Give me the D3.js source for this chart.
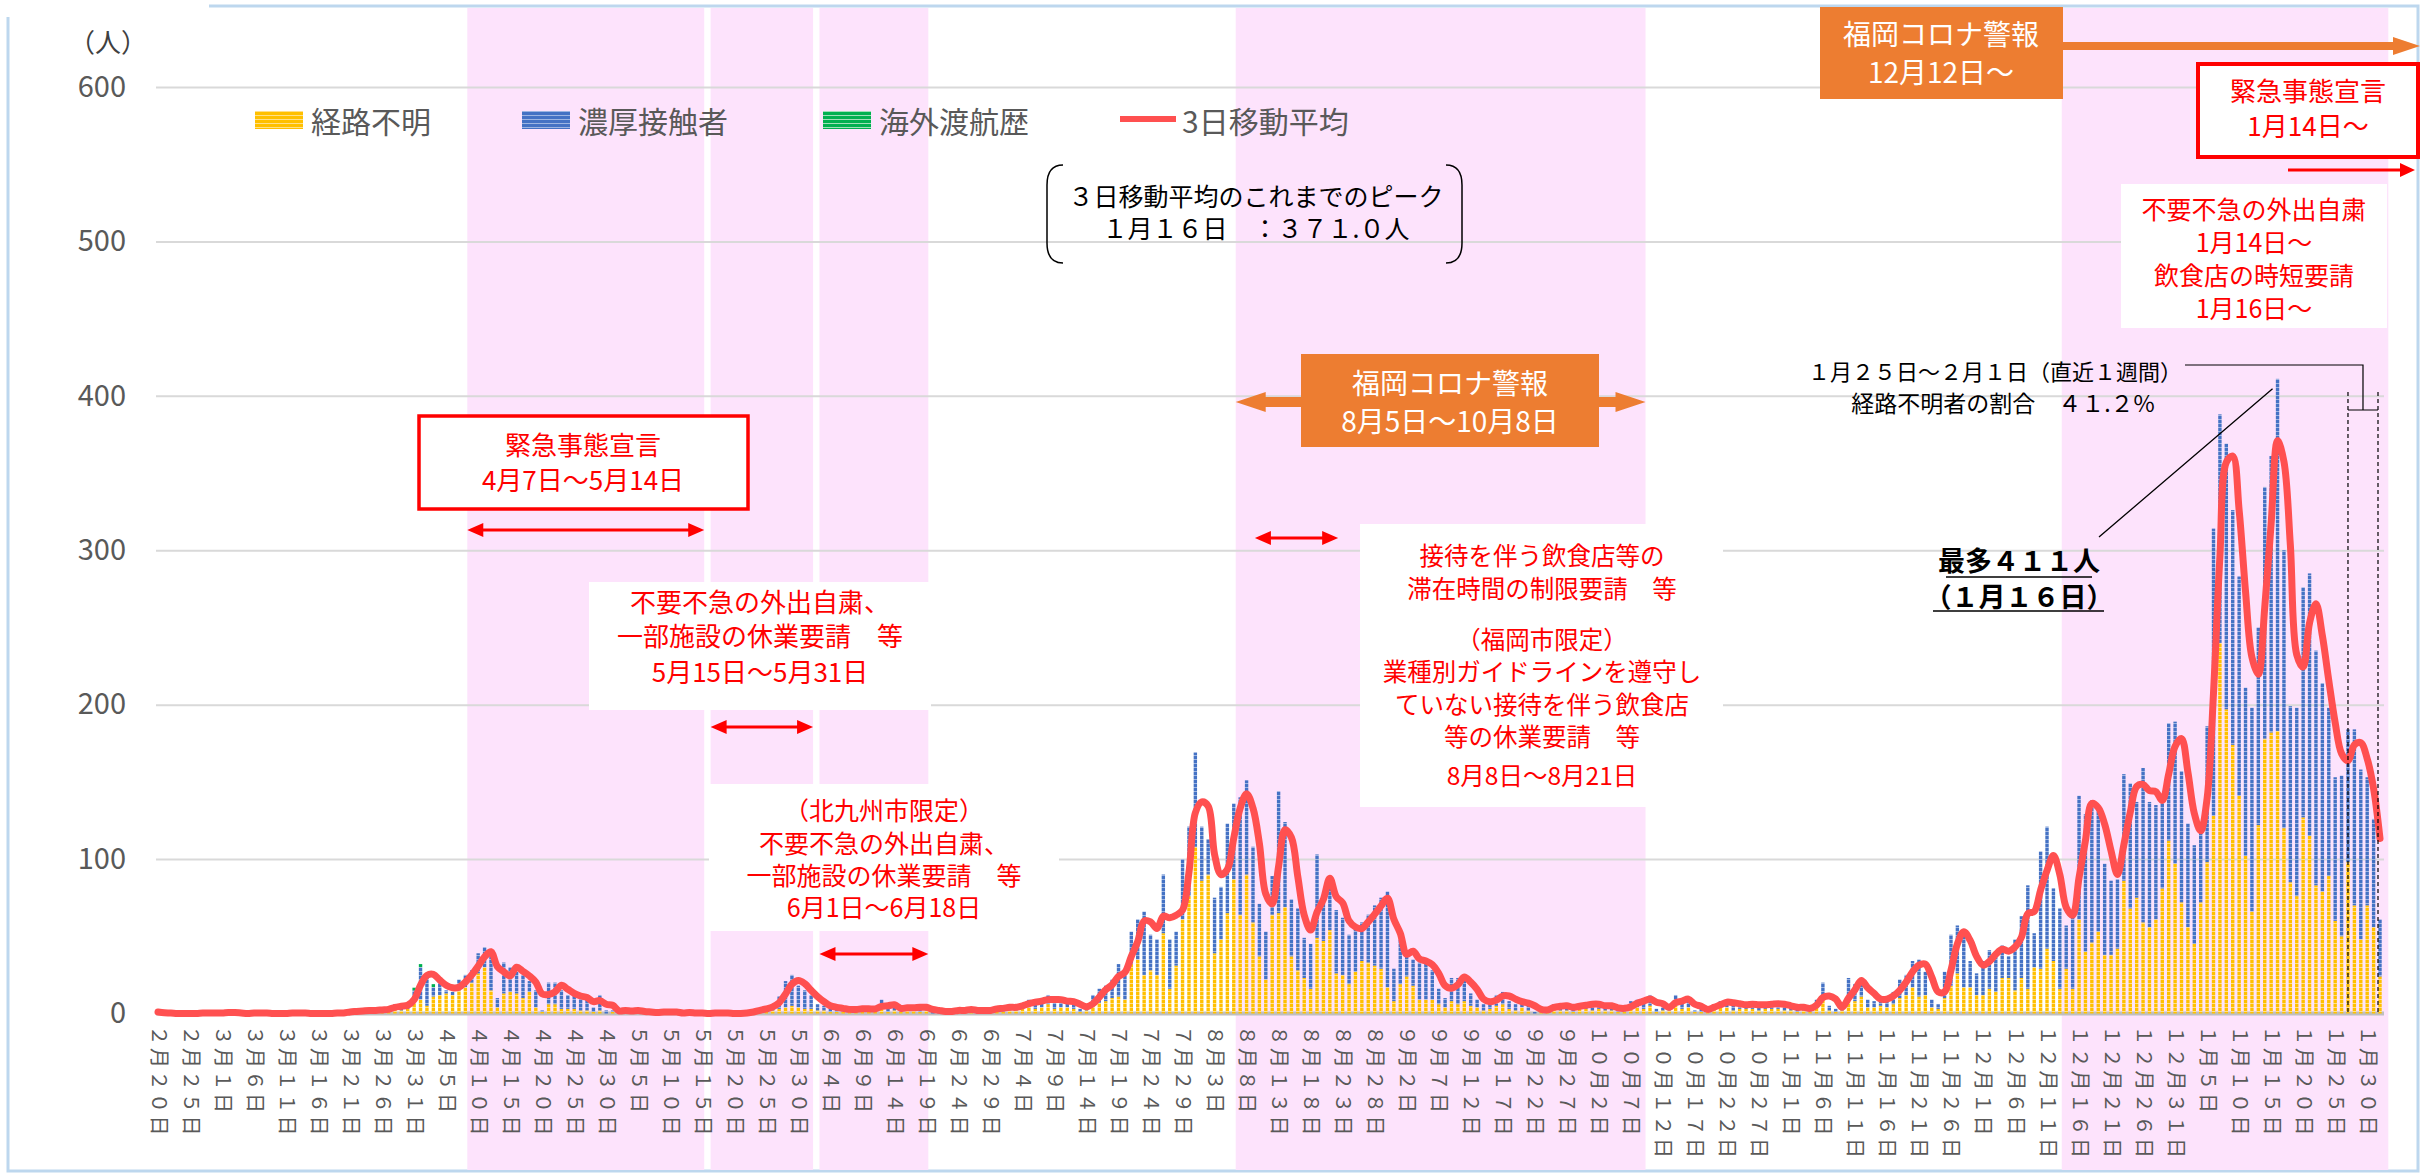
<!DOCTYPE html>
<html>
<head>
<meta charset="utf-8">
<script src="https://cdn.jsdelivr.net/npm/d3@7"></script>
<style>
  body { margin: 0; background: #fff; }
  svg text { font-family: "Noto Sans CJK JP", "Noto Sans", sans-serif; }
</style>
</head>
<body>
<div id="chart"></div>
<script>
// daily new cases, 2020-02-20 .. 2021-02-01 (one line per month)
var startDate = "2020-02-20";

var unknown = [ // 経路不明
  0,0,0,0,0,0,0,0,0,0,
  0,1,0,0,0,0,0,0,0,0,0,0,0,0,0,0,0,0,1,0,1,1,0,2,1,1,2,3,2,3,9,
  9,5,11,12,13,12,15,17,20,26,30,15,4,13,14,13,10,14,4,1,6,6,3,3,3,2,2,1,2,0,
  1,0,1,0,1,0,0,0,1,0,0,0,0,0,0,0,0,0,0,0,0,0,1,1,1,2,3,4,5,4,3,
  3,2,2,1,1,1,1,1,2,1,1,3,1,2,1,2,2,1,2,0,0,1,0,1,1,1,0,1,1,2,
  1,2,2,3,4,3,4,6,3,4,4,3,1,2,5,7,8,10,11,9,32,35,25,28,25,52,16,31,61,76,108,
  86,90,39,48,65,87,64,90,59,37,22,64,65,69,37,28,23,16,49,47,54,26,25,19,27,34,33,31,29,17,8,
  19,24,18,9,9,9,6,4,8,6,8,5,4,2,3,5,6,3,2,4,2,0,1,2,3,2,2,1,3,3,
  2,3,2,2,1,1,4,4,3,5,1,2,2,5,3,4,1,1,1,3,4,4,2,3,3,3,2,3,3,3,2,
  2,1,2,1,4,9,2,1,2,10,8,11,4,4,5,4,6,10,12,17,11,12,4,3,10,18,26,17,17,12,
  12,16,14,23,23,15,23,16,30,29,42,34,16,29,16,61,40,46,53,38,38,42,86,68,75,59,56,61,81,112,97,
  72,56,45,72,98,128,240,197,174,141,102,66,122,178,182,183,120,85,76,127,115,83,79,89,60,50,98,70,48,70,56,
  24
];

var contact = [ // 濃厚接触者
  1,0,0,0,0,0,0,1,0,0,
  1,0,0,0,0,1,0,0,0,0,0,1,0,0,0,0,0,0,0,0,1,1,1,0,1,1,2,3,2,3,6,
  21,20,6,9,2,2,7,8,8,13,13,23,6,20,16,14,15,7,11,1,14,14,12,9,9,8,7,3,10,2,
  1,1,2,1,1,1,0,1,1,0,1,0,1,0,0,0,1,0,0,0,0,1,1,2,3,4,8,17,20,14,12,
  9,4,3,3,2,2,1,2,2,1,2,6,2,3,1,2,3,2,2,1,1,1,1,2,1,2,1,1,2,2,
  2,3,2,3,5,4,4,6,4,4,5,3,2,2,7,9,10,12,21,17,21,26,41,23,23,38,32,22,39,45,61,
  35,23,36,34,58,49,76,61,49,34,31,25,79,55,37,40,26,29,54,27,32,41,37,32,28,25,31,39,46,62,21,
  29,14,17,24,25,19,10,6,15,17,17,8,5,4,5,7,8,5,4,5,3,1,1,2,3,2,3,2,3,4,
  3,3,2,3,1,2,4,5,4,7,2,2,3,7,4,5,1,2,2,3,4,4,3,3,3,3,3,3,4,3,3,
  2,2,3,1,5,11,3,2,2,13,11,11,5,4,6,5,8,12,13,17,24,15,5,3,17,33,31,34,17,14,
  22,25,26,21,14,33,40,67,22,76,79,47,52,28,50,80,89,92,80,59,48,45,69,81,62,100,81,74,61,76,92,
  85,67,64,51,88,186,148,172,152,142,109,132,128,163,179,228,180,114,122,149,170,152,135,109,93,104,86,114,110,83,70,
  37
];

// 海外渡航歴 (only a few days)
var overseasDates = ["2020-03-24", "2020-03-31", "2020-04-01", "2020-04-03"];
var overseasCounts = [1, 2, 2, 2];

var yTicks = [0, 100, 200, 300, 400, 500, 600];
var legendNames = ["経路不明", "濃厚接触者", "海外渡航歴", "3日移動平均"];

// shaded request periods
var periods = [
  ["2020-04-07", "2020-05-14"],
  ["2020-05-15", "2020-05-31"],
  ["2020-06-01", "2020-06-18"],
  ["2020-08-05", "2020-10-08"],
  ["2020-12-12", "2021-02-01"]
];

var width = 2432, height = 1175;

var svg = d3.select("#chart").append("svg")
  .attr("width", width)
  .attr("height", height)
  .style("background", "#fff");

var parse = d3.timeParse("%Y-%m-%d");
var start = parse(startDate);
var days = d3.timeDay.range(start, d3.timeDay.offset(start, unknown.length));
var dayIndex = function(s) { return d3.timeDay.count(start, parse(s)); };

var x = d3.scalePoint()
  .domain(d3.range(days.length))
  .range([158, 2380]);
var step = x.step();
var xd = function(s) { return x(dayIndex(s)); };
// hand drawn shapes sit a little to the right of the bars
var xs = function(s) { return xd(s) + step * 1.3; };

var y = d3.scaleLinear()
  .domain([0, 600])
  .range([1013.5, 87]);

var overseas = days.map(function() { return 0; });
overseasDates.forEach(function(s, k) { overseas[dayIndex(s)] = overseasCounts[k]; });

var rows = days.map(function(d, i) {
  return { i: i, date: d, unknown: unknown[i], contact: contact[i], overseas: overseas[i] };
});
rows.forEach(function(r, i) {
  var win = rows.slice(Math.max(0, i - 2), i + 1);
  r.ma = d3.mean(win, function(w) { return w.unknown + w.contact + w.overseas; });
});

// striped fills like the original bars
var defs = svg.append("defs");
function stripes(id, c1, c2) {
  var p = defs.append("pattern")
    .attr("id", id)
    .attr("patternUnits", "userSpaceOnUse")
    .attr("width", 6).attr("height", 4);
  p.append("rect").attr("width", 6).attr("height", 4).attr("fill", c1);
  p.append("rect").attr("y", 3).attr("width", 6).attr("height", 1).attr("fill", c2);
}
stripes("p-unknown", "#FFC000", "#FFE08A");
stripes("p-contact", "#4472C4", "#9DB5E2");
stripes("p-overseas", "#00B050", "#9FE0B8");
var fills = { unknown: "url(#p-unknown)", contact: "url(#p-contact)", overseas: "url(#p-overseas)" };

// frame
svg.append("path")
  .attr("d", "M209,6 H2418 V1171 H8 V17")
  .attr("fill", "none")
  .attr("stroke", "#BDD7EE")
  .attr("stroke-width", 3);

// pink periods
svg.append("g").selectAll("rect")
  .data(periods)
  .enter().append("rect")
  .attr("x", function(p) { return xs(p[0]); })
  .attr("width", function(p) { return xs(p[1]) - xs(p[0]); })
  .attr("y", 8)
  .attr("height", 1162)
  .attr("fill", "#FDE3FC");

// grid
svg.append("g")
  .attr("transform", "translate(156,0)")
  .call(d3.axisLeft(y).tickValues(yTicks.slice(1)).tickSize(-2228).tickFormat(""))
  .call(function(g) { g.select(".domain").remove(); })
  .selectAll("line")
  .attr("stroke", "#D9D9D9")
  .attr("stroke-width", 2);

// y labels
svg.append("g")
  .attr("transform", "translate(156,0)")
  .call(d3.axisLeft(y).tickValues(yTicks).tickSize(0).tickPadding(30))
  .call(function(g) { g.select(".domain").remove(); })
  .selectAll("text")
  .attr("fill", "#595959")
  .style("font-size", "29px");

svg.append("text")
  .attr("x", 108).attr("y", 40)
  .attr("text-anchor", "middle")
  .attr("dominant-baseline", "central")
  .attr("fill", "#404040")
  .style("font-size", "26px")
  .text("（人）");

// baseline
svg.append("line")
  .attr("x1", 156).attr("x2", 2384)
  .attr("y1", y(0)).attr("y2", y(0))
  .attr("stroke", "#BFBFBF")
  .attr("stroke-width", 4);

// x labels
function fullWidth(n) {
  return String(n).replace(/\d/g, function(c) { return String.fromCharCode(c.charCodeAt(0) + 0xFEE0); });
}
var xAxis = d3.axisBottom(x)
  .tickValues(d3.range(0, days.length, 5))
  .tickSize(0)
  .tickFormat(function(i) {
    var d = days[i];
    return fullWidth(d.getMonth() + 1) + "月" + fullWidth(d.getDate()) + "日";
  });
svg.append("g")
  .attr("transform", "translate(0," + y(0) + ")")
  .call(xAxis)
  .call(function(g) { g.select(".domain").remove(); })
  .selectAll("text")
  .attr("transform", "rotate(90)")
  .attr("x", 12).attr("y", 0).attr("dy", "0.35em")
  .style("text-anchor", "start")
  .style("letter-spacing", "2.5px")
  .attr("fill", "#595959")
  .style("font-size", "20px");

// stacked bars
var series = d3.stack().keys(["unknown", "contact", "overseas"])(rows);
var bw = 3.4;
svg.append("g").selectAll("g")
  .data(series)
  .enter().append("g")
  .attr("fill", function(s) { return fills[s.key]; })
  .selectAll("rect")
  .data(function(s) { return s.filter(function(d) { return d[1] > d[0]; }); })
  .enter().append("rect")
  .attr("x", function(d) { return x(d.data.i) - bw / 2; })
  .attr("width", bw)
  .attr("y", function(d) { return y(d[1]); })
  .attr("height", function(d) { return y(d[0]) - y(d[1]); });

// 3-day moving average
var line = d3.line()
  .curve(d3.curveCatmullRom.alpha(0.5))
  .x(function(d) { return x(d.i); })
  .y(function(d) { return y(d.ma); });
svg.append("path")
  .datum(rows)
  .attr("d", line)
  .attr("fill", "none")
  .attr("stroke", "#FF5050")
  .attr("stroke-width", 7)
  .attr("stroke-linecap", "round")
  .attr("stroke-linejoin", "round");

// legend
var lg = svg.append("g");
var legendX = [255, 522, 823, 1120];
legendNames.forEach(function(name, k) {
  if (k < 3) {
    lg.append("rect")
      .attr("x", legendX[k]).attr("y", 111)
      .attr("width", 48).attr("height", 18)
      .attr("fill", fills[["unknown", "contact", "overseas"][k]]);
  } else {
    lg.append("line")
      .attr("x1", legendX[k]).attr("x2", legendX[k] + 56)
      .attr("y1", 119).attr("y2", 119)
      .attr("stroke", "#FF5050").attr("stroke-width", 6);
  }
  lg.append("text")
    .attr("x", legendX[k] + (k < 3 ? 56 : 62)).attr("y", 120)
    .attr("dominant-baseline", "central")
    .attr("fill", "#595959")
    .style("font-size", "30px")
    .text(name);
});

// ---- annotations ----
// one text element per note, one tspan per line
function note(o) {
  var g = svg.append("g");
  if (o.box) {
    g.append("rect")
      .attr("x", o.box[0]).attr("y", o.box[1])
      .attr("width", o.box[2]).attr("height", o.box[3])
      .attr("fill", o.fill || "#fff")
      .attr("stroke", o.stroke || "none")
      .attr("stroke-width", o.sw || 0);
  }
  var t = g.append("text")
    .attr("text-anchor", "middle")
    .attr("fill", o.color)
    .style("font-size", o.size + "px")
    .style("font-weight", o.bold ? 700 : 400);
  o.lines.forEach(function(s, k) {
    t.append("tspan")
      .attr("x", o.cxs ? o.cxs[k] : o.cx)
      .attr("y", o.ys[k])
      .attr("dy", "0.35em")
      .style("font-size", o.sizes ? o.sizes[k] + "px" : null)
      .text(s);
  });
  return g;
}

function arrow(x1, x2, yy, color, shaft, headL, headH, both) {
  var h = shaft / 2, a = headH / 2;
  var l = both ? x1 + headL : x1;
  var r = x2 - headL;
  var d = "M" + x2 + "," + yy +
    " L" + r + "," + (yy - a) + " L" + r + "," + (yy - h) +
    " L" + l + "," + (yy - h);
  if (both) {
    d += " L" + l + "," + (yy - a) + " L" + x1 + "," + yy +
      " L" + l + "," + (yy + a) + " L" + l + "," + (yy + h);
  } else {
    d += " L" + l + "," + (yy + h);
  }
  d += " L" + r + "," + (yy + h) + " L" + r + "," + (yy + a) + " Z";
  svg.append("path").attr("d", d).attr("fill", color);
}

var red = "#FF0000", orange = "#ED7D31";

note({ box: [419, 416, 329, 93], stroke: red, sw: 3.5, cx: 583, ys: [446, 481],
  color: red, size: 26, lines: ["緊急事態宣言", "4月7日～5月14日"] });
arrow(xs("2020-04-07"), xs("2020-05-14"), 530, red, 3, 16, 14, true);

note({ box: [589, 582, 342, 128], cx: 760, ys: [603, 637, 673],
  color: red, size: 26, lines: ["不要不急の外出自粛、", "一部施設の休業要請　等", "5月15日～5月31日"] });
arrow(xs("2020-05-15"), xs("2020-05-31"), 727, red, 3, 16, 14, true);

note({ box: [709, 784, 350, 147], cx: 884, ys: [811, 844, 876, 908],
  color: red, size: 25, lines: ["（北九州市限定）", "不要不急の外出自粛、", "一部施設の休業要請　等", "6月1日～6月18日"] });
arrow(xs("2020-06-01"), xs("2020-06-18"), 954, red, 3, 16, 14, true);

arrow(xs("2020-08-05"), xs("2020-10-08"), 402, orange, 10, 30, 20, true);
note({ box: [1301, 354, 298, 93], fill: orange, cx: 1450, ys: [384, 422],
  color: "#fff", size: 28, lines: ["福岡コロナ警報", "8月5日～10月8日"] });

arrow(xs("2020-08-08"), xs("2020-08-21"), 538, red, 3, 16, 14, true);
note({ box: [1360, 524, 363, 283], cx: 1542, ys: [556, 589, 640, 672, 705, 737, 776],
  color: red, size: 24.5,
  lines: ["接待を伴う飲食店等の", "滞在時間の制限要請　等", "（福岡市限定）", "業種別ガイドラインを遵守し",
    "ていない接待を伴う飲食店", "等の休業要請　等", "8月8日～8月21日"] });

// moving average peak note with brackets
note({ cx: 1256, ys: [197, 229], color: "#000", size: 25,
  lines: ["３日移動平均のこれまでのピーク", "１月１６日　：３７１.０人"] });
svg.append("path")
  .attr("d", "M1063,165 Q1047,165 1047,185 L1047,243 Q1047,263 1063,263 M1446,165 Q1462,165 1462,185 L1462,243 Q1462,263 1446,263")
  .attr("fill", "none").attr("stroke", "#000").attr("stroke-width", 1.5);

// winter alerts
arrow(2063, 2420, 46, orange, 8, 27, 18, false);
note({ box: [1820, 7, 243, 92], fill: orange, cx: 1941, ys: [35, 73],
  color: "#fff", size: 28, lines: ["福岡コロナ警報", "12月12日～"] });

note({ box: [2198, 64, 220, 93], stroke: red, sw: 4, cx: 2308, ys: [92, 127],
  color: red, size: 26, lines: ["緊急事態宣言", "1月14日～"] });
arrow(2288, 2415, 170, red, 3, 15, 14, false);

note({ box: [2121, 184, 266, 144], cx: 2254, ys: [210, 243, 276, 309],
  color: red, size: 25, lines: ["不要不急の外出自粛", "1月14日～", "飲食店の時短要請", "1月16日～"] });

// last week share of unknown route
var wl = xd("2021-01-27"), wr = xd("2021-02-01") - 2;
note({ cxs: [1995, 2003], ys: [372, 404], color: "#000", size: 22, sizes: [22, 23],
  lines: ["１月２５日～２月１日（直近１週間）", "経路不明者の割合　４１.２%"] });
svg.append("path")
  .attr("d", "M2185,365 H" + ((wl + wr) / 2) + " V410 M" + wl + ",410 H" + wr)
  .attr("fill", "none").attr("stroke", "#000").attr("stroke-width", 1.2);
[wl, wr].forEach(function(xx) {
  svg.append("line")
    .attr("x1", xx).attr("x2", xx).attr("y1", 392).attr("y2", y(0))
    .attr("stroke", "#000").attr("stroke-width", 1.2)
    .attr("stroke-dasharray", "4,3");
});

// maximum day
note({ cx: 2019, ys: [562, 598], color: "#000", size: 27, bold: true,
  lines: ["最多４１１人", "（１月１６日）"] });
svg.append("path")
  .attr("d", "M1946,577 H2092 M1933,611 H2104 M2099,537 L" + (xd("2021-01-16") - 5) + "," + (y(411) + 10))
  .attr("fill", "none").attr("stroke", "#000").attr("stroke-width", 1.3);
</script>
</body>
</html>
